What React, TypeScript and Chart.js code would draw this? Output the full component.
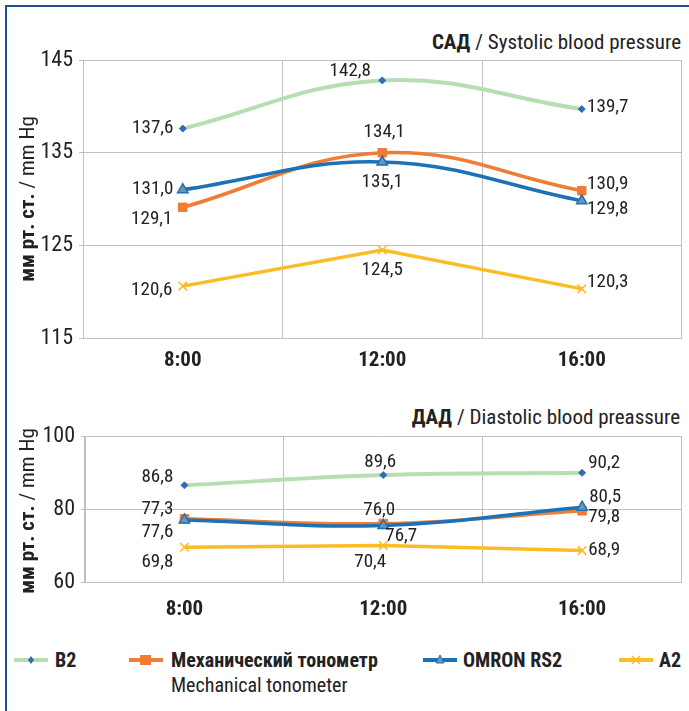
import React, { useEffect, useRef } from "react";
import { Chart, registerables } from "chart.js";

Chart.register(...registerables);

const FONT = "'Liberation Sans Narrow', 'Arial Narrow', 'Roboto Condensed', 'Liberation Sans', sans-serif";

// ---- data ----
const categories = ["8:00", "12:00", "16:00"];

const seriesNames = ["B2", "Механический тонометр", "OMRON RS2", "A2"];

const sysB2 = [137.6, 142.8, 139.7];
const sysMech = [129.1, 135.0, 130.9];
const sysOmron = [131.0, 134.0, 129.8];
const sysA2 = [120.6, 124.5, 120.3];

const sysB2Labels = ["137,6", "142,8", "139,7"];
const sysMechLabels = ["129,1", "134,1", "130,9"];
const sysOmronLabels = ["131,0", "135,1", "129,8"];
const sysA2Labels = ["120,6", "124,5", "120,3"];

const diaB2 = [86.5, 89.3, 89.9];
const diaMech = [77.3, 76.0, 79.5];
const diaOmron = [77.0, 75.5, 80.5];
const diaA2 = [69.5, 70.0, 68.6];

const diaB2Labels = ["86,8", "89,6", "90,2"];
const diaMechLabels = ["77,3", "76,0", "79,8"];
const diaOmronLabels = ["77,6", "76,7", "80,5"];
const diaA2Labels = ["69,8", "70,4", "68,9"];

const sysTicks = [115, 125, 135, 145];
const diaTicks = [60, 80, 100];

// ---- label placement (text centre relative to point) ----
const sysLabelOffsets = [
  [[-30, 0], [-32, -9], [26, -2]],
  [[-31, 12], [2, -20], [26, -6]],
  [[-30, 0], [0, 20], [26, 8]],
  [[-31, 4], [0, 20], [26, -7]],
];
const diaLabelOffsets = [
  [[-27, -8], [-3, -13], [22, -10]],
  [[-27, -10], [-4, -13], [22, 6]],
  [[-27, 12], [18, 11], [23, -10]],
  [[-27, 15], [-13, 17], [22, 0]],
];

const COLORS = {
  b2: "#b7ddb2",
  b2Marker: "#2f6db5",
  mech: "#f07d35",
  omron: "#1b72b8",
  omronFill: "#7393ad",
  a2: "#fbbc24",
  grid: "#c0c0c0",
  text: "#222222",
  frame: "#1f4e96",
};

function makeDatasets(b2: number[], mech: number[], omron: number[], a2: number[]) {
  return [
    {
      label: seriesNames[0],
      data: b2,
      borderColor: COLORS.b2,
      borderWidth: 4,
      tension: 0.4,
      pointStyle: "rectRot",
      pointRadius: 3.5,
      pointBackgroundColor: COLORS.b2Marker,
      pointBorderColor: COLORS.b2Marker,
      pointBorderWidth: 1,
      order: 4,
    },
    {
      label: seriesNames[1],
      data: mech,
      borderColor: COLORS.mech,
      borderWidth: 3.5,
      tension: 0.4,
      pointStyle: "rect",
      pointRadius: 6,
      pointBackgroundColor: COLORS.mech,
      pointBorderColor: COLORS.mech,
      pointBorderWidth: 1,
      order: 3,
    },
    {
      label: seriesNames[2],
      data: omron,
      borderColor: COLORS.omron,
      borderWidth: 3.5,
      tension: 0.4,
      pointStyle: "triangle",
      pointRadius: 6,
      pointBackgroundColor: COLORS.omronFill,
      pointBorderColor: COLORS.omron,
      pointBorderWidth: 1.5,
      order: 2,
    },
    {
      label: seriesNames[3],
      data: a2,
      borderColor: COLORS.a2,
      borderWidth: 3.5,
      tension: 0,
      pointStyle: "crossRot",
      pointRadius: 6,
      pointBackgroundColor: COLORS.a2,
      pointBorderColor: COLORS.a2,
      pointBorderWidth: 1.5,
      order: 1,
    },
  ];
}

function labelPlugin(texts: string[][], offsets: number[][][]) {
  return {
    id: "pointLabels",
    afterDatasetsDraw(chart: any) {
      const ctx = chart.ctx;
      ctx.save();
      ctx.font = `19px ${FONT}`;
      ctx.fillStyle = COLORS.text;
      ctx.textAlign = "center";
      ctx.textBaseline = "middle";
      texts.forEach((row, i) => {
        const meta = chart.getDatasetMeta(i);
        row.forEach((t, j) => {
          const el = meta.data[j];
          if (!el) return;
          const [dx, dy] = offsets[i][j];
          ctx.fillText(t, el.x + dx, el.y + dy);
        });
      });
      ctx.restore();
    },
  };
}

function buildOptions(min: number, max: number, ticks: number[], padTop: number, yWidth: number, xHeight: number, xPad: number) {
  return {
    responsive: false,
    animation: false,
    devicePixelRatio: 1,
    layout: { padding: { top: padTop, right: 7, left: 0, bottom: 0 } },
    plugins: { legend: { display: false }, tooltip: { enabled: false }, title: { display: false } },
    scales: {
      x: {
        type: "category",
        offset: true,
        grid: {
          offset: true,
          color: (c: any) => (c.index === categories.length ? "rgba(0,0,0,0)" : COLORS.grid),
          drawTicks: false,
          lineWidth: 1,
        },
        border: { display: true, color: COLORS.grid, width: 1 },
        ticks: { color: COLORS.text, font: { family: FONT, size: 21, weight: "bold" }, padding: xPad },
        afterFit: (s: any) => {
          s.height = xHeight;
        },
      },
      y: {
        min,
        max,
        afterBuildTicks: (s: any) => {
          s.ticks = ticks.map((v) => ({ value: v }));
        },
        grid: { color: COLORS.grid, tickLength: 4, lineWidth: 1 },
        border: { display: true, color: COLORS.grid, width: 1 },
        ticks: { color: COLORS.text, font: { family: FONT, size: 22 }, padding: 6 },
        afterFit: (s: any) => {
          s.width = yWidth;
        },
      },
    },
  };
}

function LineChart(props: {
  width: number;
  height: number;
  top: number;
  datasets: any[];
  options: any;
  texts: string[][];
  offsets: number[][][];
}) {
  const ref = useRef<HTMLCanvasElement | null>(null);
  useEffect(() => {
    if (!ref.current) return;
    const chart = new Chart(ref.current, {
      type: "line",
      data: { labels: categories, datasets: props.datasets },
      options: props.options,
      plugins: [labelPlugin(props.texts, props.offsets)],
    } as any);
    return () => chart.destroy();
  }, []);
  return (
    <canvas
      ref={ref}
      width={props.width}
      height={props.height}
      style={{ position: "absolute", left: 0, top: props.top, width: props.width, height: props.height }}
    />
  );
}

function YTitle({ cx, cy }: { cx: number; cy: number }) {
  return (
    <div
      style={{
        position: "absolute",
        left: cx,
        top: cy,
        transform: "translate(-50%, -50%) rotate(-90deg)",
        whiteSpace: "nowrap",
        fontFamily: FONT,
        fontSize: 21,
        lineHeight: "22px",
        color: COLORS.text,
      }}
    >
      <b>мм рт. ст.</b> / mm Hg
    </div>
  );
}

function Marker({ kind }: { kind: number }) {
  const w = 34;
  const colors = [COLORS.b2, COLORS.mech, COLORS.omron, COLORS.a2];
  return (
    <svg width={w} height={14} style={{ display: "block" }}>
      <line x1={0} y1={7} x2={w} y2={7} stroke={colors[kind]} strokeWidth={4} />
      {kind === 0 && <polygon points="17,3 20,7 17,11 14,7" fill={COLORS.b2Marker} />}
      {kind === 1 && <rect x={11} y={2} width={11} height={10} fill={COLORS.mech} />}
      {kind === 2 && <polygon points="17,2 21,10 13,10" fill={COLORS.omronFill} stroke={COLORS.omron} strokeWidth={1} />}
      {kind === 3 && (
        <g stroke={COLORS.a2} strokeWidth={1.5}>
          <line x1={13} y1={3} x2={21} y2={11} />
          <line x1={21} y1={3} x2={13} y2={11} />
        </g>
      )}
    </svg>
  );
}

export default function App() {
  const textStyle: React.CSSProperties = {
    position: "absolute",
    fontFamily: FONT,
    fontSize: 20,
    lineHeight: "24px",
    color: COLORS.text,
    whiteSpace: "nowrap",
  };
  const legendItems = [
    { kind: 0, mx: 14, tx: 55 },
    { kind: 1, mx: 129, tx: 171 },
    { kind: 2, mx: 423, tx: 463 },
    { kind: 3, mx: 619, tx: 659 },
  ];
  return (
    <div
      style={{
        position: "fixed",
        left: 0,
        top: 0,
        width: 689,
        height: 711,
        overflow: "hidden",
        background: "#ffffff",
      }}
    >
      <div
        style={{
          position: "absolute",
          left: 5,
          top: 5,
          width: 720,
          height: 740,
          borderLeft: `2px solid ${COLORS.frame}`,
          borderTop: `2px solid ${COLORS.frame}`,
        }}
      />
      <div style={{ ...textStyle, fontSize: 21, left: 0, width: 681, top: 30, textAlign: "right" }}>
        <b>САД</b> / Systolic blood pressure
      </div>
      <div style={{ ...textStyle, fontSize: 21, left: 0, width: 680, top: 405, textAlign: "right" }}>
        <b>ДАД</b> / Diastolic blood preassure
      </div>
      <LineChart
        width={689}
        height={380}
        top={0}
        datasets={makeDatasets(sysB2, sysMech, sysOmron, sysA2)}
        options={buildOptions(115, 145, sysTicks, 60, 83, 42, 10)}
        texts={[sysB2Labels, sysMechLabels, sysOmronLabels, sysA2Labels]}
        offsets={sysLabelOffsets}
      />
      <LineChart
        width={689}
        height={250}
        top={380}
        datasets={makeDatasets(diaB2, diaMech, diaOmron, diaA2)}
        options={buildOptions(60, 100, diaTicks, 56, 85, 48, 15)}
        texts={[diaB2Labels, diaMechLabels, diaOmronLabels, diaA2Labels]}
        offsets={diaLabelOffsets}
      />
      <YTitle cx={27} cy={199} />
      <YTitle cx={27} cy={511} />
      {legendItems.map((it) => (
        <React.Fragment key={it.kind}>
          <div style={{ position: "absolute", left: it.mx, top: 653 }}>
            <Marker kind={it.kind} />
          </div>
          <div style={{ ...textStyle, left: it.tx, top: 648, fontWeight: "bold" }}>{seriesNames[it.kind]}</div>
        </React.Fragment>
      ))}
      <div style={{ ...textStyle, left: 171, top: 673 }}>Mechanical tonometer</div>
    </div>
  );
}
